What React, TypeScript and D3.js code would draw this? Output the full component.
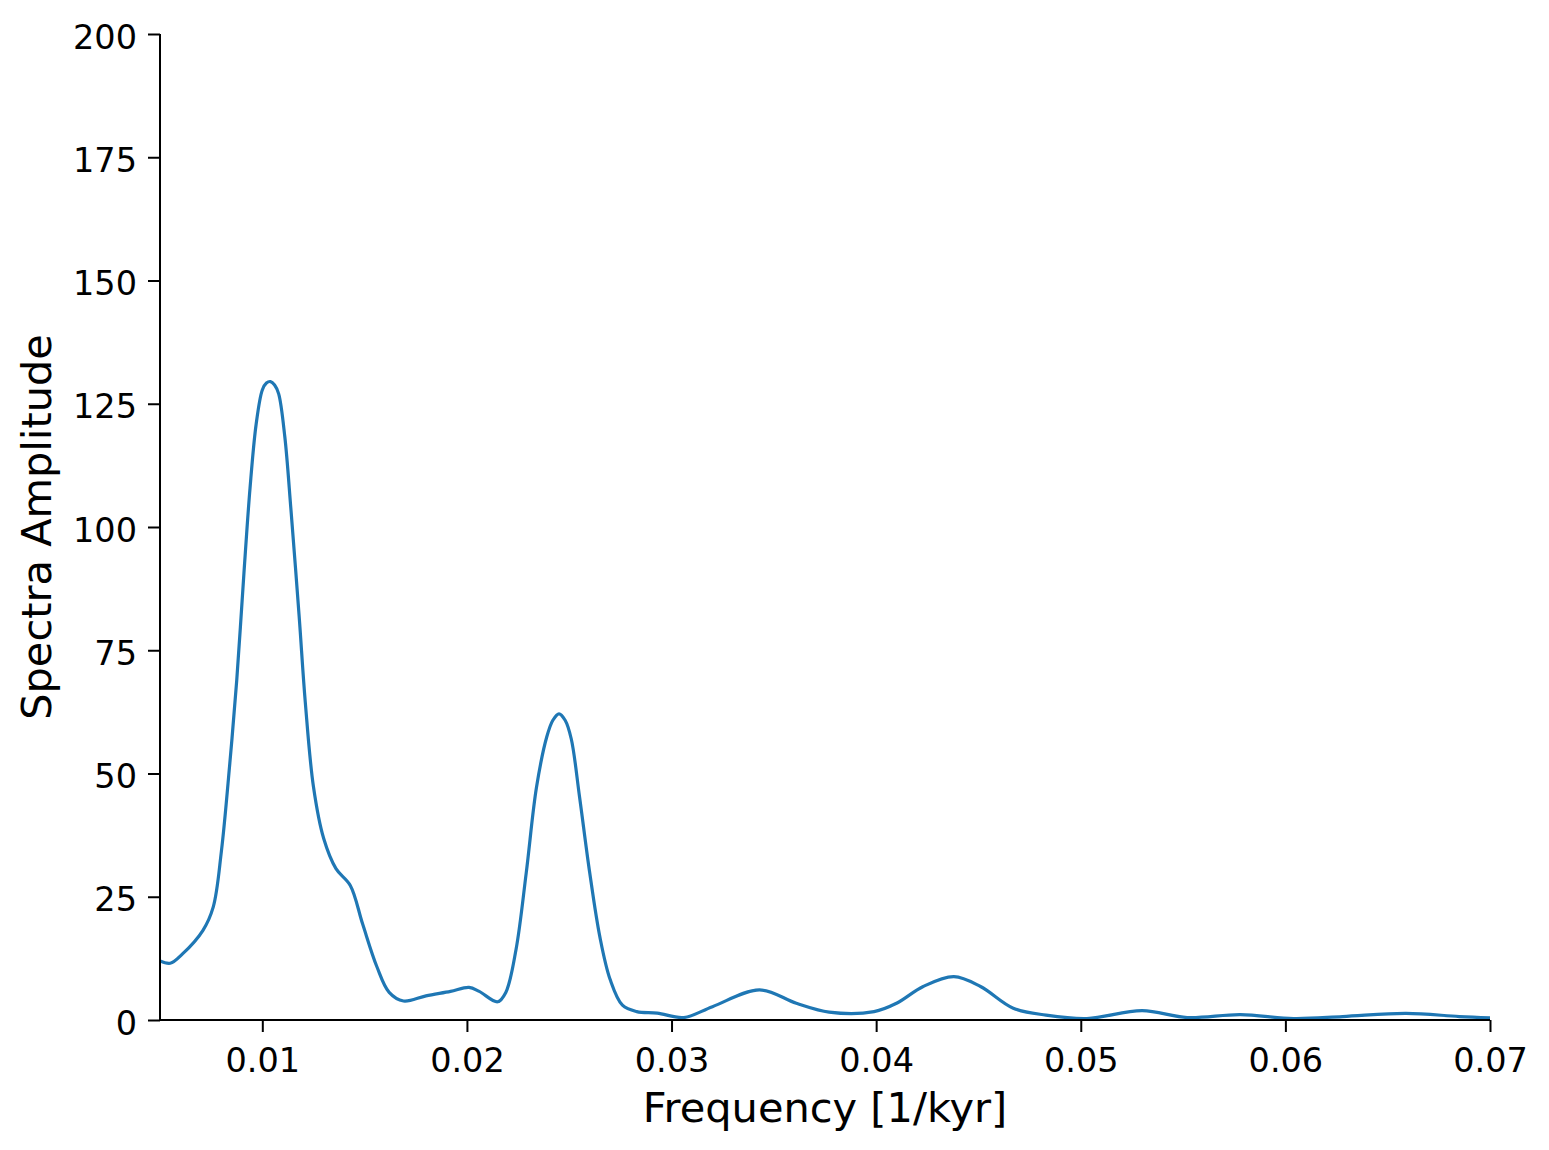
import React, { useEffect, useRef } from 'react';
import * as d3 from 'd3';

// Spectrum (frequency in 1/kyr, amplitude)
const freq = [
  0.005, 0.0055, 0.0061, 0.0071, 0.0076, 0.008, 0.0084, 0.00875, 0.0091, 0.0094,
  0.0097, 0.01, 0.0102, 0.0104, 0.0106, 0.0108, 0.0111, 0.0114, 0.0118, 0.0121,
  0.0125, 0.013, 0.0136, 0.0143, 0.0149, 0.0156, 0.0162, 0.0169, 0.018, 0.0192,
  0.0201, 0.0206, 0.0215, 0.0219, 0.0224, 0.0229, 0.0234, 0.0239, 0.0242, 0.0245,
  0.0248, 0.0251, 0.0255, 0.026, 0.0265, 0.027, 0.0276, 0.0283, 0.0293, 0.0306,
  0.032, 0.0343, 0.0361, 0.0377, 0.0399, 0.041, 0.0423, 0.0438, 0.0451, 0.0467,
  0.0483, 0.0503, 0.053, 0.0552, 0.0578, 0.0604, 0.0628, 0.0659, 0.0685, 0.07,
];
const amp = [
  12.0, 11.5, 13.4, 18.2, 22.9, 34.2, 51.5, 68.9, 90.5, 107.9,
  120.9, 127.8, 129.2, 129.5, 128.8, 127, 118.3, 103.5, 81.9, 64.5,
  47.3, 36.8, 30.7, 27.3, 19.5, 10.8, 5.6, 3.85, 4.9, 5.8,
  6.6, 5.8, 3.7, 5.6, 14.3, 29.9, 47.2, 57.4, 60.8, 62.1,
  60.8, 57.0, 45.4, 29.9, 16.8, 8.2, 3.0, 1.7, 1.4, 0.5,
  2.7, 6.1, 3.4, 1.6, 1.7, 3.4, 6.8, 8.8, 6.8, 2.4,
  1.0, 0.3, 1.9, 0.5, 1.1, 0.3, 0.7, 1.35, 0.7, 0.45,
];
const xTicks = [0.01, 0.02, 0.03, 0.04, 0.05, 0.06, 0.07];
const yTicks = [0, 25, 50, 75, 100, 125, 150, 175, 200];

const width = 1549;
const height = 1150;
const margin = { top: 34, right: 59, bottom: 130, left: 160 };
const font = '"DejaVu Sans", sans-serif';

export default function App() {
  const svgRef = useRef<SVGSVGElement>(null);

  useEffect(() => {
    if (!svgRef.current) return;
    document.body.style.margin = '0';
    const svg = d3.select(svgRef.current);
    svg.selectAll('*').remove();

    const x = d3.scaleLinear().domain([0.005, 0.07]).range([margin.left, width - margin.right]);
    const y = d3.scaleLinear().domain([0, 200]).range([height - margin.bottom, margin.top]);

    const data = freq.map((f, i) => [f, amp[i]] as [number, number]);

    // Curve
    const line = d3
      .line<[number, number]>()
      .x((d) => x(d[0]))
      .y((d) => y(d[1]))
      .curve(d3.curveCatmullRom.alpha(0.5));

    svg
      .append('path')
      .datum(data)
      .attr('fill', 'none')
      .attr('stroke', '#1f77b4')
      .attr('stroke-width', 3.2)
      .attr('stroke-linejoin', 'round')
      .attr('d', line);

    // X axis
    const xAxis = svg
      .append('g')
      .attr('transform', `translate(0,${height - margin.bottom})`)
      .call(
        d3
          .axisBottom(x)
          .tickValues(xTicks)
          .tickSize(12)
          .tickPadding(8)
          .tickFormat((d) => String(d))
      );
    xAxis.select('.domain').attr('stroke-width', 2).attr('d', `M${margin.left},0H${width - margin.right}`);
    xAxis.selectAll('.tick line').attr('stroke-width', 2);
    xAxis
      .selectAll('.tick text')
      .attr('font-family', font)
      .attr('font-size', 33.5)
      .attr('fill', '#000')
      .attr('dy', null)
      .attr('y', 52);

    // Y axis
    const yAxis = svg
      .append('g')
      .attr('transform', `translate(${margin.left},0)`)
      .call(d3.axisLeft(y).tickValues(yTicks).tickSize(12).tickPadding(10).tickFormat((d) => String(d)));
    yAxis.select('.domain').attr('stroke-width', 2).attr('d', `M0,${margin.top}V${height - margin.bottom}`);
    yAxis.selectAll('.tick line').attr('stroke-width', 2);
    yAxis
      .selectAll('.tick text')
      .attr('font-family', font)
      .attr('font-size', 33.5)
      .attr('fill', '#000')
      .attr('dy', null)
      .attr('y', 14)
      .attr('x', -23);

    // Axis labels
    svg
      .append('text')
      .attr('x', (margin.left + width - margin.right) / 2)
      .attr('y', 1122)
      .attr('text-anchor', 'middle')
      .attr('font-family', font)
      .attr('font-size', 41.5)
      .text('Frequency [1/kyr]');

    svg
      .append('text')
      .attr('transform', `translate(51,${(margin.top + height - margin.bottom) / 2}) rotate(-90)`)
      .attr('text-anchor', 'middle')
      .attr('font-family', font)
      .attr('font-size', 41.5)
      .text('Spectra Amplitude');
  }, []);

  return (
    <svg
      ref={svgRef}
      width={width}
      height={height}
      style={{ display: 'block', position: 'absolute', left: 0, top: 0, background: '#fff' }}
    />
  );
}
